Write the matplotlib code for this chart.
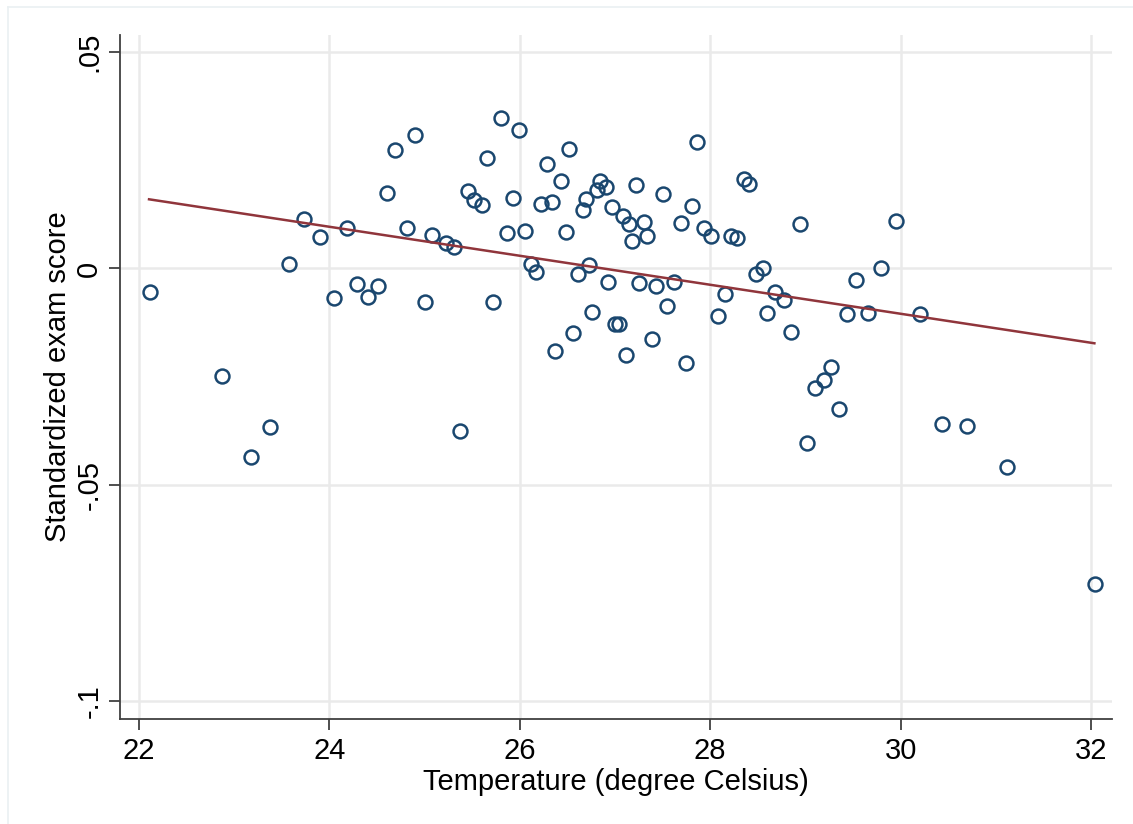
import matplotlib.pyplot as plt
import numpy as np

# temperature (degree Celsius) and standardized exam score
temp = [22.12, 22.87, 23.18, 23.38, 23.57, 23.73, 23.90, 24.05, 24.18, 24.29,
        24.40, 24.51, 24.60, 24.69, 24.81, 24.90, 25.00, 25.08, 25.22, 25.31,
        25.37, 25.46, 25.52, 25.60, 25.66, 25.72, 25.80, 25.87, 25.93, 25.99,
        26.05, 26.12, 26.17, 26.22, 26.29, 26.34, 26.37, 26.43, 26.48, 26.52,
        26.56, 26.61, 26.66, 26.69, 26.73, 26.76, 26.81, 26.84, 26.90, 26.93,
        26.97, 27.00, 27.04, 27.08, 27.11, 27.15, 27.18, 27.22, 27.25, 27.30,
        27.34, 27.39, 27.43, 27.50, 27.55, 27.62, 27.69, 27.75, 27.81, 27.86,
        27.93, 28.01, 28.08, 28.15, 28.22, 28.28, 28.35, 28.41, 28.48, 28.55,
        28.60, 28.68, 28.77, 28.85, 28.94, 29.02, 29.10, 29.20, 29.27, 29.35,
        29.44, 29.53, 29.66, 29.79, 29.95, 30.20, 30.43, 30.70, 31.12, 32.04]
score = [-0.0055, -0.0249, -0.0436, -0.0367, 0.0010, 0.0114, 0.0072, -0.0069, 0.0093, -0.0036,
         -0.0066, -0.0041, 0.0174, 0.0274, 0.0093, 0.0308, -0.0078, 0.0077, 0.0059, 0.0049,
         -0.0376, 0.0179, 0.0158, 0.0146, 0.0255, -0.0078, 0.0348, 0.0082, 0.0163, 0.0320,
         0.0086, 0.0010, -0.0009, 0.0149, 0.0241, 0.0153, -0.0191, 0.0202, 0.0084, 0.0276,
         -0.0150, -0.0013, 0.0135, 0.0160, 0.0008, -0.0101, 0.0181, 0.0202, 0.0188, -0.0032,
         0.0142, -0.0129, -0.0129, 0.0121, -0.0200, 0.0102, 0.0063, 0.0193, -0.0034, 0.0107,
         0.0075, -0.0164, -0.0041, 0.0172, -0.0087, -0.0032, 0.0105, -0.0219, 0.0144, 0.0292,
         0.0093, 0.0075, -0.0110, -0.0059, 0.0075, 0.0070, 0.0207, 0.0195, -0.0013, 0.0001,
         -0.0103, -0.0055, -0.0073, -0.0147, 0.0102, -0.0404, -0.0277, -0.0258, -0.0228, -0.0325,
         -0.0106, -0.0027, -0.0103, 0.0001, 0.0109, -0.0106, -0.0360, -0.0365, -0.0460, -0.0730]

# fitted line end points
fit_x = [22.105, 32.035]
fit_y = [0.0160, -0.0173]

xticks = [22, 24, 26, 28, 30, 32]
yticks = [0.05, 0, -0.05, -0.1]
ytick_labels = ['.05', '0', '-.05', '-.1']

plt.rcParams['font.family'] = ['Liberation Sans', 'DejaVu Sans']

fig = plt.figure(figsize=(11.33, 8.24), dpi=100)
ax = fig.add_axes([120/1133, 1 - 719/824, 992/1133, 684/824])

# pale outer frame, as in the source export
fig.add_artist(plt.Line2D([8/1133, 8/1133], [0, 1 - 7/824], transform=fig.transFigure,
                          color='#eaf0f2', linewidth=1.2))
fig.add_artist(plt.Line2D([8/1133, 1], [1 - 7/824, 1 - 7/824], transform=fig.transFigure,
                          color='#eaf0f2', linewidth=1.2))

ax.plot(temp, score, linestyle='none', marker='o', markersize=10,
        markerfacecolor='none', markeredgecolor='#1a476f', markeredgewidth=1.8, zorder=3)
ax.plot(fit_x, fit_y, color='#90353b', linewidth=1.8, zorder=4)

ax.set_xlim(21.80, 32.22)
ax.set_ylim(-0.1042, 0.054)
ax.set_xticks(xticks)
ax.set_yticks(yticks)
ax.set_yticklabels(ytick_labels, rotation=90, va='center')

ax.grid(True, color='#eaeaea', linewidth=1.8)
ax.set_axisbelow(True)

for s in ['top', 'right']:
    ax.spines[s].set_visible(False)
for s in ['left', 'bottom']:
    ax.spines[s].set_color('#404040')
    ax.spines[s].set_linewidth(1.3)

ax.tick_params(axis='both', direction='out', length=8, width=1.3, color='#404040',
               labelsize=21, labelcolor='black')
ax.tick_params(axis='x', pad=5)
ax.tick_params(axis='y', pad=4)

ax.set_xlabel('Temperature (degree Celsius)', fontsize=21)
ax.set_ylabel('Standardized exam score', fontsize=21)
ax.xaxis.set_label_coords(0.5, -0.071)
ax.yaxis.set_label_coords(-0.048, 0.5)

plt.savefig('out.png', dpi=100)
